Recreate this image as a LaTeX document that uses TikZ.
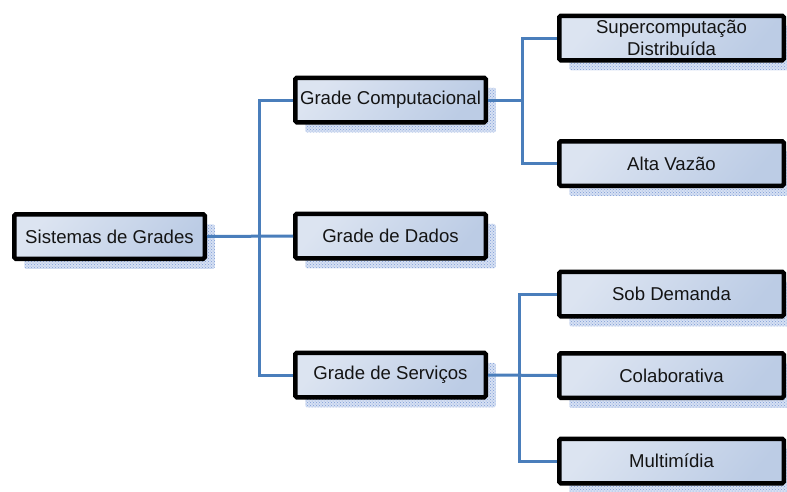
\documentclass[tikz,border=0pt]{standalone}
\usepackage{fontspec}
\setmainfont{Liberation Sans}
\usetikzlibrary{patterns}
\definecolor{boxlight}{HTML}{DCE4F1}
\definecolor{boxdark}{HTML}{BCCCE5}
\definecolor{linkblue}{HTML}{4A7EBB}
\definecolor{shadeblue}{HTML}{7E9CD6}
\definecolor{shadetint}{HTML}{D6E0F3}
\definecolor{labelink}{HTML}{141414}
\tikzset{
  treebox/.style={
    preaction={draw=none, fill=shadetint,
      transform canvas={shift={(10pt,-10pt)}}},
    preaction={draw=none, pattern=crosshatch dots, pattern color=shadeblue,
      transform canvas={shift={(10pt,-10pt)}}},
    draw=black, line width=4.5pt, rounded corners=1.5pt,
    left color=boxlight, right color=boxdark, shading angle=50,
    minimum height=44.5pt, inner sep=0pt, align=center,
    font=\fontsize{18.6}{22}\selectfont, text=labelink},
  rootbox/.style={treebox, minimum width=190.5pt},
  midbox/.style={treebox, minimum width=190.5pt},
  leafbox/.style={treebox, minimum width=224.5pt},
  link/.style={draw=linkblue, line width=3pt}
}
\begin{document}
\begin{tikzpicture}[x=1pt, y=-1pt]
  \useasboundingbox (0,0) rectangle (787,491);
  \clip (0,0) rectangle (787,491);

  % boxes
  \node[rootbox] (root)  at (109.5,236.5) {Sistemas de Grades};
  \node[midbox]  (comp)  at (390.5,100)   {Grade Computacional};
  \node[midbox]  (dados) at (390.5,236)   {Grade de Dados};
  \node[midbox]  (serv)  at (390.5,375)   {Grade de Servi\c{c}os};
  \node[leafbox] (super) at (671.5,38)    {Supercomputa\c{c}\~ao\\Distribu\'ida};
  \node[leafbox] (alta)  at (671.5,163.5) {Alta Vaz\~ao};
  \node[leafbox] (sob)   at (671.5,294)   {Sob Demanda};
  \node[leafbox] (colab) at (671.5,375.5) {Colaborativa};
  \node[leafbox] (multi) at (671.5,461)   {Multim\'idia};

  % trunk junctions
  \coordinate (trunkA) at (259,236.5);
  \coordinate (trunkB) at (522,100);
  \coordinate (trunkC) at (519.5,375.5);

  % connectors
  \draw[link] (root.east) -- (dados.west);
  \draw[link] (comp.west) -| (trunkA) |- (serv.west);

  \draw[link] (comp.east) -- (trunkB);
  \draw[link] (super.west) -| (trunkB) |- (alta.west);

  \draw[link] (serv.east) -- (colab.west);
  \draw[link] (sob.west) -| (trunkC) |- (multi.west);
\end{tikzpicture}
\end{document}
